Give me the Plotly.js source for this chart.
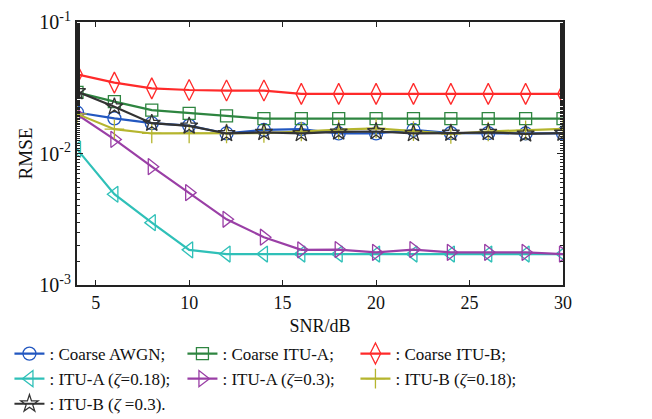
<!DOCTYPE html>
<html>
<head>
<meta charset="utf-8">
<script src="https://cdn.plot.ly/plotly-3.0.1.min.js"></script>
<style>html,body{margin:0;padding:0;background:#fff;}#chart{width:652px;height:419px;}</style>
</head>
<body>
<div id="chart"></div>
<script>
const snr = [4, 6, 8, 10, 12, 14, 16, 18, 20, 22, 24, 26, 28, 30];

const coarseAWGN = [0.0205, 0.0185, 0.0170, 0.0163, 0.0142, 0.0151, 0.0153, 0.0142, 0.0142, 0.0151, 0.0143, 0.0143, 0.0142, 0.0142];
const coarseITUA = [0.0292, 0.0248, 0.0214, 0.0202, 0.0193, 0.0184, 0.0184, 0.0184, 0.0184, 0.0184, 0.0184, 0.0184, 0.0184, 0.0184];
const coarseITUB = [0.0400, 0.0346, 0.0313, 0.0304, 0.0301, 0.0301, 0.0284, 0.0284, 0.0284, 0.0284, 0.0284, 0.0284, 0.0284, 0.0284];
const ituA018 = [0.0108, 0.0049, 0.00298, 0.00185, 0.00172, 0.00172, 0.00172, 0.00172, 0.00172, 0.00172, 0.00172, 0.00172, 0.00172, 0.00172];
const ituA03 = [0.0198, 0.0128, 0.00794, 0.00504, 0.00316, 0.00231, 0.00185, 0.00186, 0.00177, 0.00186, 0.00177, 0.00177, 0.00177, 0.00172];
const ituB018 = [0.0200, 0.0153, 0.0142, 0.0142, 0.0142, 0.0143, 0.0147, 0.0152, 0.0155, 0.0148, 0.0141, 0.0147, 0.0150, 0.0154];
const ituB03 = [0.0296, 0.0227, 0.0170, 0.0162, 0.0142, 0.0145, 0.0142, 0.0146, 0.0147, 0.0142, 0.0143, 0.0145, 0.0141, 0.0143];

const yTickVals = [0.001, 0.01, 0.1];
const yTickText = ['10<sup>-3</sup>', '10<sup>-2</sup>', '10<sup>-1</sup>'];
const xTickVals = [5, 10, 15, 20, 25, 30];

const names = [
  ': Coarse AWGN;',
  ': Coarse ITU-A;',
  ': Coarse ITU-B;',
  ': ITU-A (<i>ζ</i>=0.18);',
  ': ITU-A (<i>ζ</i>=0.3);',
  ': ITU-B (<i>ζ</i>=0.18);',
  ': ITU-B (<i>ζ</i> =0.3).'
];
const series = [coarseAWGN, coarseITUA, coarseITUB, ituA018, ituA03, ituB018, ituB03];
const colors = ['#2257c0', '#2e8540', '#ff2a2a', '#2fc0b8', '#9a3fa6', '#b5b52e', '#333333'];
const symbols = ['circle-open', 'square-open', 'diamond-tall-open', 'triangle-left-open', 'triangle-right-open', 'cross-thin-open', 'star-open'];
const sizes = [13, 12, 15, 14, 14, 14, 13];

const traces = series.map((y, i) => ({
  x: snr, y: y, name: names[i], type: 'scatter', mode: 'lines+markers',
  line: {color: colors[i], width: 2.2},
  marker: {symbol: symbols[i], size: sizes[i], color: colors[i], line: {color: colors[i], width: 1.3}}
}));

const fam = '"Liberation Serif", "Times New Roman", serif';
const font = {family: fam, size: 17, color: '#111'};

const layout = {
  width: 652, height: 419,
  margin: {l: 77, r: 89, t: 22, b: 134, autoexpand: false},
  paper_bgcolor: '#fff', plot_bgcolor: '#fff',
  font: font,
  showlegend: true,
  legend: {
    orientation: 'h',
    x: -0.139, xanchor: 'left', y: -0.194, yanchor: 'top',
    entrywidth: 128, entrywidthmode: 'pixels', itemwidth: 30,
    font: font, bgcolor: 'rgba(0,0,0,0)', tracegroupgap: 0
  },
  xaxis: {
    range: [4, 30], tickvals: xTickVals,
    ticks: 'inside', ticklen: 5, tickwidth: 1, tickcolor: '#222',
    showline: true, linecolor: '#222', linewidth: 2, mirror: 'ticks',
    showgrid: false, zeroline: false,
    title: {text: 'SNR/dB', font: {family: fam, size: 18, color: '#111'}, standoff: 8},
    tickfont: {family: fam, size: 18, color: '#111'}
  },
  yaxis: {
    type: 'log', range: [-3, -1], tickvals: yTickVals, ticktext: yTickText,
    ticks: 'inside', ticklen: 6, tickwidth: 1, tickcolor: '#222',
    minor: {ticks: 'inside', ticklen: 3, tickcolor: '#222', showgrid: false},
    showline: true, linecolor: '#222', linewidth: 2, mirror: 'ticks',
    showgrid: false, zeroline: false,
    title: {text: 'RMSE', font: {family: fam, size: 19, color: '#111'}, standoff: 2},
    tickfont: {family: fam, size: 20, color: '#111'}
  }
};

Plotly.newPlot('chart', traces, layout, {displayModeBar: false, staticPlot: true});
</script>
</body>
</html>
